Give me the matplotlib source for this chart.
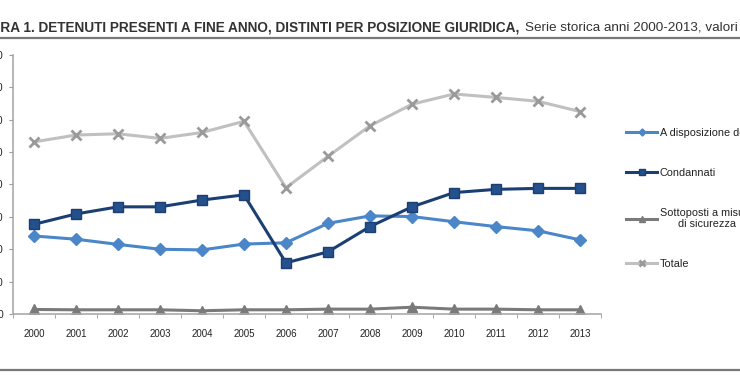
import numpy as np
import matplotlib
matplotlib.use("Agg")
import matplotlib.pyplot as plt
from matplotlib.ticker import FuncFormatter, MultipleLocator, FixedLocator

# data
anni = ['2000', '2001', '2002', '2003', '2004', '2005', '2006',
        '2007', '2008', '2009', '2010', '2011', '2012', '2013']
a_disposizione = [24100, 23100, 21500, 20000, 19800, 21600, 22000,
                  28000, 30300, 30100, 28500, 27000, 25700, 22900]
condannati = [27700, 30900, 33100, 33100, 35200, 36800, 15800,
              19200, 27000, 33100, 37500, 38500, 38800, 38800]
sottoposti = [1400, 1300, 1300, 1300, 1000, 1300, 1300,
              1500, 1500, 2100, 1500, 1500, 1300, 1300]
totale = [53165, 55275, 55670, 54237, 56068, 59523, 39005,
          48693, 58127, 64791, 67961, 66897, 65701, 62536]
etichette = ["A disposizione dell'Autorità giudiziaria", 'Condannati',
             'Sottoposti a misure\ndi sicurezza', 'Totale']
titolo_b = 'FIGURA 1. DETENUTI PRESENTI A FINE ANNO, DISTINTI PER POSIZIONE GIURIDICA,'
titolo_n = 'Serie storica anni 2000-2013, valori assoluti'

plt.rcParams['font.family'] = ['Liberation Sans', 'DejaVu Sans']

fig = plt.figure(figsize=(7.4, 3.89), dpi=100)
W, H = 740, 389
ax = fig.add_axes([13 / W, 1 - 314 / H, (601 - 13) / W, (314 - 55) / H])

x = np.arange(len(anni))
ax.plot(x, a_disposizione, color='#4a86c8', lw=2.2, marker='D', ms=6,
        label=etichette[0])
ax.plot(x, condannati, color='#1b3f73', lw=2.2, marker='s', ms=6.5,
        mfc='#24508c', label=etichette[1])
ax.plot(x, sottoposti, color='#7a7a7a', lw=2.2, marker='^', ms=7,
        label=etichette[2])
ax.plot(x, totale, color='#c0c0c0', lw=2.2, marker='x', ms=7, mew=2,
        mec='#9a9a9a', label=etichette[3])

ax.set_xlim(-0.5, len(anni) - 0.5)
ax.set_ylim(0, 80000)
ax.xaxis.set_major_locator(FixedLocator(x))
ax.set_xticklabels(anni)
ax.xaxis.set_minor_locator(FixedLocator(np.arange(len(anni) + 1) - 0.5))
ax.tick_params(axis='x', which='major', length=0, pad=11, labelsize=7,
               labelcolor='#222222')
ax.tick_params(axis='x', which='minor', length=3, color='#999999', direction='out')
ax.yaxis.set_major_locator(MultipleLocator(10000))
ax.yaxis.set_major_formatter(FuncFormatter(lambda v, p: f'{int(v):,}'.replace(',', '.')))
ax.tick_params(axis='y', length=3, color='#999999', pad=4, labelsize=7.5,
               labelcolor='#222222')
for s in ['top', 'right']:
    ax.spines[s].set_visible(False)
for s in ['left', 'bottom']:
    ax.spines[s].set_color('#aaaaaa')
    ax.spines[s].set_linewidth(1.2)

leg = fig.legend(loc='upper left', bbox_to_anchor=(626 / W, 1 - 128 / H),
                 frameon=False, fontsize=7.8, handlelength=2.9,
                 handletextpad=0.2, labelspacing=2.75, borderaxespad=0,
                 borderpad=0, markerscale=0.6)
leg.get_texts()[2].set_multialignment('center')
for t in leg.get_texts():
    t.set_color('#222222')

# title: fit the bold part so "RA 1. ... GIURIDICA," spans x 0..520
r = fig.canvas.get_renderer()
tb = fig.text(0, 1 - 28 / H, titolo_b, fontsize=10, fontweight='bold',
              color='#333333', va='center')
pre = fig.text(0, 0, 'FIGU', fontsize=10, fontweight='bold')
wb = tb.get_window_extent(r).width
wp = pre.get_window_extent(r).width
fs = 10 * 520 / (wb - wp)
tb.set_fontsize(fs)
pre.set_fontsize(fs)
wp = pre.get_window_extent(r).width
pre.remove()
tb.set_x(-wp / W)
tn = fig.text(525 / W, 1 - 28 / H, titolo_n, fontsize=10,
              color='#333333', va='center')
part = fig.text(0, 0, 'Serie storica anni 2000-2013, valori', fontsize=10)
wn = part.get_window_extent(r).width
part.remove()
tn.set_fontsize(10 * 213 / wn)

fig.add_artist(plt.Line2D([0, 1], [1 - 38 / H] * 2, color='#777777', lw=1.6))
fig.add_artist(plt.Line2D([0, 1], [1 - 370 / H] * 2, color='#777777', lw=1.6))

fig.savefig('out.png', dpi=100)
